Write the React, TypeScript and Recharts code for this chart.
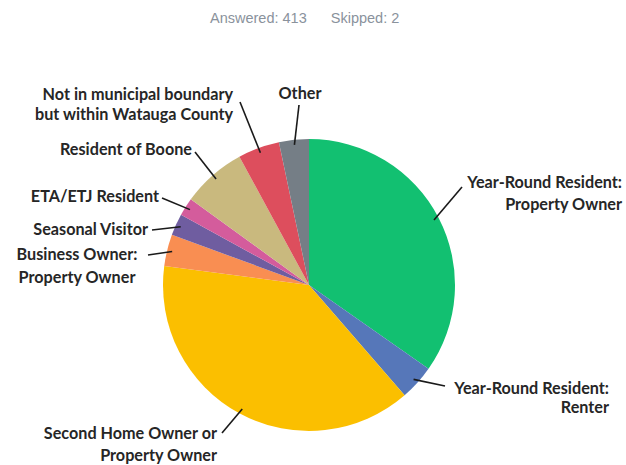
import React from 'react';
import { PieChart, Pie, Cell } from 'recharts';

const categories = [
  ['Year-Round Resident:', 'Property Owner'],
  ['Year-Round Resident:', 'Renter'],
  ['Second Home Owner or', 'Property Owner'],
  ['Business Owner:', 'Property Owner'],
  ['Seasonal Visitor'],
  ['ETA/ETJ Resident'],
  ['Resident of Boone'],
  ['Not in municipal boundary', 'but within Watauga County'],
  ['Other'],
];

const values = [34.7, 3.9, 38.4, 3.5, 2.4, 2.0, 7.1, 4.6, 3.3];

const colors = ['#12c071', '#5677b9', '#fbbf00', '#f98e52', '#6f5da0', '#d45c9c', '#c9b97e', '#dd4e5d', '#757e86'];

const headerTexts = ['Answered: 413', 'Skipped: 2'];

// label layout relative to pie centre: leader end (ex,ey), text x, first baseline, line gap, anchor
const labelLayout = [
  { ex: 153, ey: -98, tx: 313, ty: -97, gap: 22, anchor: 'end' },
  { ex: 136, ey: 101, tx: 300, ty: 109, gap: 19, anchor: 'end' },
  { ex: -87, ey: 148, tx: -92, ty: 154, gap: 22, anchor: 'end' },
  { ex: -161, ey: -30, tx: -232, ty: -25, gap: 23, anchor: 'middle' },
  { ex: -157, ey: -55, tx: -161, ty: -50, gap: 0, anchor: 'end' },
  { ex: -147, ey: -87, tx: -150, ty: -83, gap: 0, anchor: 'end' },
  { ex: -114, ey: -133, tx: -117, ty: -130, gap: 0, anchor: 'end' },
  { ex: -69, ey: -183, tx: -76, ty: -185, gap: 20, anchor: 'end' },
  { ex: -10, ey: -180, tx: -9, ty: -186, gap: 0, anchor: 'middle' },
];

const data = categories.map((c, i) => ({ name: c.join(' '), lines: c, value: values[i] }));

const RAD = Math.PI / 180;

const renderLabel = (props: any) => {
  const { cx, cy, midAngle, outerRadius, index } = props;
  const L = labelLayout[index];
  const r = outerRadius * 0.965;
  const sx = cx + Math.cos(-midAngle * RAD) * r;
  const sy = cy + Math.sin(-midAngle * RAD) * r;
  const lines = data[index].lines;
  return (
    <g key={`lbl-${index}`}>
      <line x1={sx} y1={sy} x2={cx + L.ex} y2={cy + L.ey} stroke="#1a1a1a" strokeWidth={1.6} />
      <text
        x={cx + L.tx}
        y={cy + L.ty}
        textAnchor={L.anchor as any}
        fill="#262626"
        fontFamily="Lato, 'Open Sans', sans-serif"
        fontWeight={700}
        fontSize={16.2}
      >
        {lines.map((t, j) => (
          <tspan key={j} x={cx + L.tx} y={cy + L.ty + j * L.gap}>
            {t}
          </tspan>
        ))}
      </text>
    </g>
  );
};

export default function App() {
  return (
    <div style={{ position: 'absolute', left: 0, top: 0, width: 626, height: 465, background: '#fff' }}>
      <div
        style={{
          position: 'absolute',
          top: 10,
          left: 210,
          fontFamily: "'Liberation Sans', Arial, sans-serif",
          fontSize: 14.5,
          color: '#8a929c',
          whiteSpace: 'nowrap',
        }}
      >
        <span>{headerTexts[0]}</span>
        <span style={{ marginLeft: 24 }}>{headerTexts[1]}</span>
      </div>
      <PieChart width={626} height={465} margin={{ top: 0, right: 0, bottom: 0, left: 0 }}>
        <Pie
          data={data}
          dataKey="value"
          nameKey="name"
          cx={309}
          cy={285}
          outerRadius={146}
          startAngle={90}
          endAngle={-270}
          stroke="none"
          label={renderLabel}
          labelLine={false}
          isAnimationActive={false}
        >
          {data.map((d, i) => (
            <Cell key={i} fill={colors[i]} />
          ))}
        </Pie>
      </PieChart>
    </div>
  );
}
